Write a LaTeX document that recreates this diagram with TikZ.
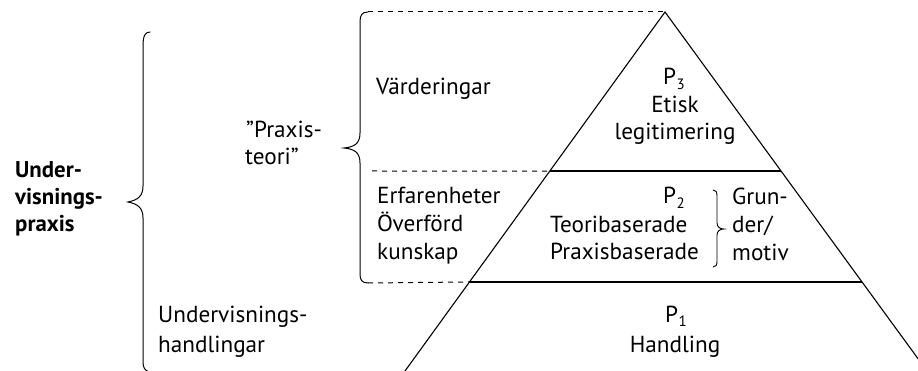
\documentclass[tikz,border=0pt]{standalone}
\usepackage{fontspec}
\setmainfont{PT Sans}
\usetikzlibrary{calc}
\newcommand{\psub}[1]{P\kern0.5pt\raisebox{-5pt}{\fontsize{15}{15}\selectfont #1}}
\tikzset{
  txt/.style={inner sep=0pt, anchor=base west, font=\fontsize{23.2}{28}\selectfont},
  ctxt/.style={txt, anchor=base},
  btxt/.style={txt, font=\fontsize{22.8}{28}\selectfont\bfseries},
  edge/.style={line width=1.1pt, black},
  level/.style={line width=1.7pt, black},
  dashline/.style={line width=1pt, dash pattern=on 5pt off 5pt},
  bracestyle/.style={line width=1pt, line cap=round},
}
\begin{document}
\begin{tikzpicture}[x=1pt,y=-1pt]
\clip (0,0) rectangle (918,371);
\fill[white] (0,0) rectangle (918,371);
% triangle
\coordinate (apex) at (665,12);
\coordinate (bl) at (405,371);
\coordinate (br) at (927,371);
\coordinate (l1) at ($(apex)!0.443!(bl)$);
\coordinate (r1) at ($(apex)!0.443!(br)$);
\coordinate (l2) at ($(apex)!0.752!(bl)$);
\coordinate (r2) at ($(apex)!0.752!(br)$);
\draw[edge] (bl) -- (apex) -- (br);
\draw[level] (l1) -- (r1);
\draw[level] (l2) -- (r2);
% dashed box
\coordinate (dt) at (368,12);
\coordinate (dm) at (372,171);
\coordinate (db) at (368,283);
\draw[dashline] (dt) -- (apex);
\draw[dashline] (dm) -- (l1);
\draw[dashline] (db) -- (l2);
% brace of the dashed box
\draw[bracestyle] (dt) .. controls (362,12) and (360,15) .. (360,22) -- (360,133)
  .. controls (360,143) and (355,147) .. (344,148)
  .. controls (355,149) and (360,153) .. (360,163) -- (360,274)
  .. controls (360,280) and (362,283) .. (db);
% big brace
\draw[bracestyle] (150,32) .. controls (145,32) and (143,36) .. (143,46) -- (143,186)
  .. controls (143,196) and (138,200) .. (128,202)
  .. controls (138,204) and (143,208) .. (143,218) -- (143,362)
  .. controls (143,368) and (145,371) .. (150,372);
% small brace
\draw[bracestyle, line width=0.9pt] (713,190) .. controls (716,190) and (717,192) .. (717,196) -- (717,223)
  .. controls (717,227) and (720,229) .. (724,229)
  .. controls (720,229) and (717,231) .. (717,235) -- (717,261)
  .. controls (717,265) and (716,267) .. (713,267);
% left texts
\node[btxt] (u1) at (15,178) {Under-};
\node[btxt] (u2) at (15,205) {visnings-};
\node[btxt] (u3) at (15,232) {praxis};
\node[txt] (pt1) at (246,138) {”Praxis-};
\node[txt] (pt2) at (245,165) {teori”};
\node[txt] (uh1) at (158,322) {Undervisnings-};
\node[txt] (uh2) at (158,352) {handlingar};
\node[txt] (v) at (376,95) {Värderingar};
\node[txt] (e1) at (377,204) {Erfarenheter};
\node[txt] (e2) at (377,232) {Överförd};
\node[txt] (e3) at (377,260) {kunskap};
% pyramid texts
\node[txt] (p3) at (663,85) {\psub{3}};
\node[ctxt] (p3a) at (675,113) {Etisk};
\node[ctxt] (p3b) at (675,140) {legitimering};
\node[txt] (p2) at (663,204) {\psub{2}};
\node[txt] (p2a) at (550,233) {Teoribaserade};
\node[txt] (p2b) at (550,260) {Praxisbaserade};
\node[txt] (g1) at (732,205) {Grun-};
\node[txt] (g2) at (732,233) {der/};
\node[txt] (g3) at (732,261) {motiv};
\node[txt] (p1) at (665,322) {\psub{1}};
\node[ctxt] (h) at (675,352) {Handling};
\end{tikzpicture}
\end{document}
